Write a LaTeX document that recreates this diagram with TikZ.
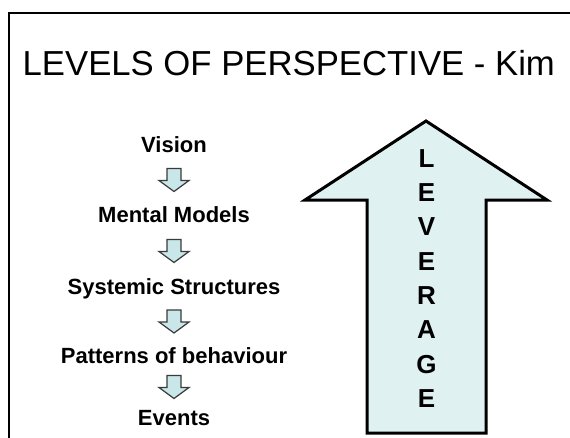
\documentclass[tikz,border=0pt]{standalone}
\usepackage{fontspec}
\setmainfont{Liberation Sans}
\usetikzlibrary{calc}
\definecolor{levfill}{HTML}{DFF1F1}
\definecolor{stepfill}{HTML}{C9E6E8}
\definecolor{stepline}{HTML}{3A3A3A}
\tikzset{
	level/.style={inner sep=0, text height=15.75pt, text depth=0pt, font=\fontsize{22}{26}\selectfont\bfseries},
	levletter/.style={inner sep=0, text height=18.6pt, text depth=0pt, font=\fontsize{26}{30}\selectfont\bfseries},
	blockdown/.pic={
		\draw[fill=stepfill, draw=stepline, line width=1.2pt, line join=miter]
			(-7,-11.5) -- (7,-11.5) -- (7,0.5) -- (15,0.5) -- (0,11.5) -- (-15,0.5) -- (-7,0.5) -- cycle;
	}
}
\begin{document}
\begin{tikzpicture}[x=1pt, y=-1pt]
	\useasboundingbox (0,0) rectangle (570,437);
	\draw[line width=2.2pt] (9,445) -- (9,13) -- (580,13);
	\node[anchor=base west, inner sep=0, font=\fontsize{34.7}{40}\selectfont] (title) at (22.5,75) {LEVELS OF PERSPECTIVE - Kim};
	% levels on the left
	\node[level] (vision) at (174,145) {Vision};
	\node[level] (mental) at (174,215) {Mental Models};
	\node[level] (systemic) at (174,287) {Systemic Structures};
	\node[level] (patterns) at (174,356) {Patterns of behaviour};
	\node[level] (events) at (174,418) {Events};
	\foreach \a/\b in {vision/mental, mental/systemic, systemic/patterns, patterns/events}
		\pic at ($(\a)!0.5!(\b)$) {blockdown};
	% big leverage arrow
	\draw[fill=levfill, line width=3pt, line join=miter] (367,433) -- (367,200) -- (305,200) -- (426,121) -- (547,200) -- (486,200) -- (486,433) -- cycle;
	\foreach \l [count=\i from 0] in {L,E,V,E,R,A,G,E}
		\node[levletter] (lev\i) at (426.5,158+34.3*\i) {\l};
\end{tikzpicture}
\end{document}
